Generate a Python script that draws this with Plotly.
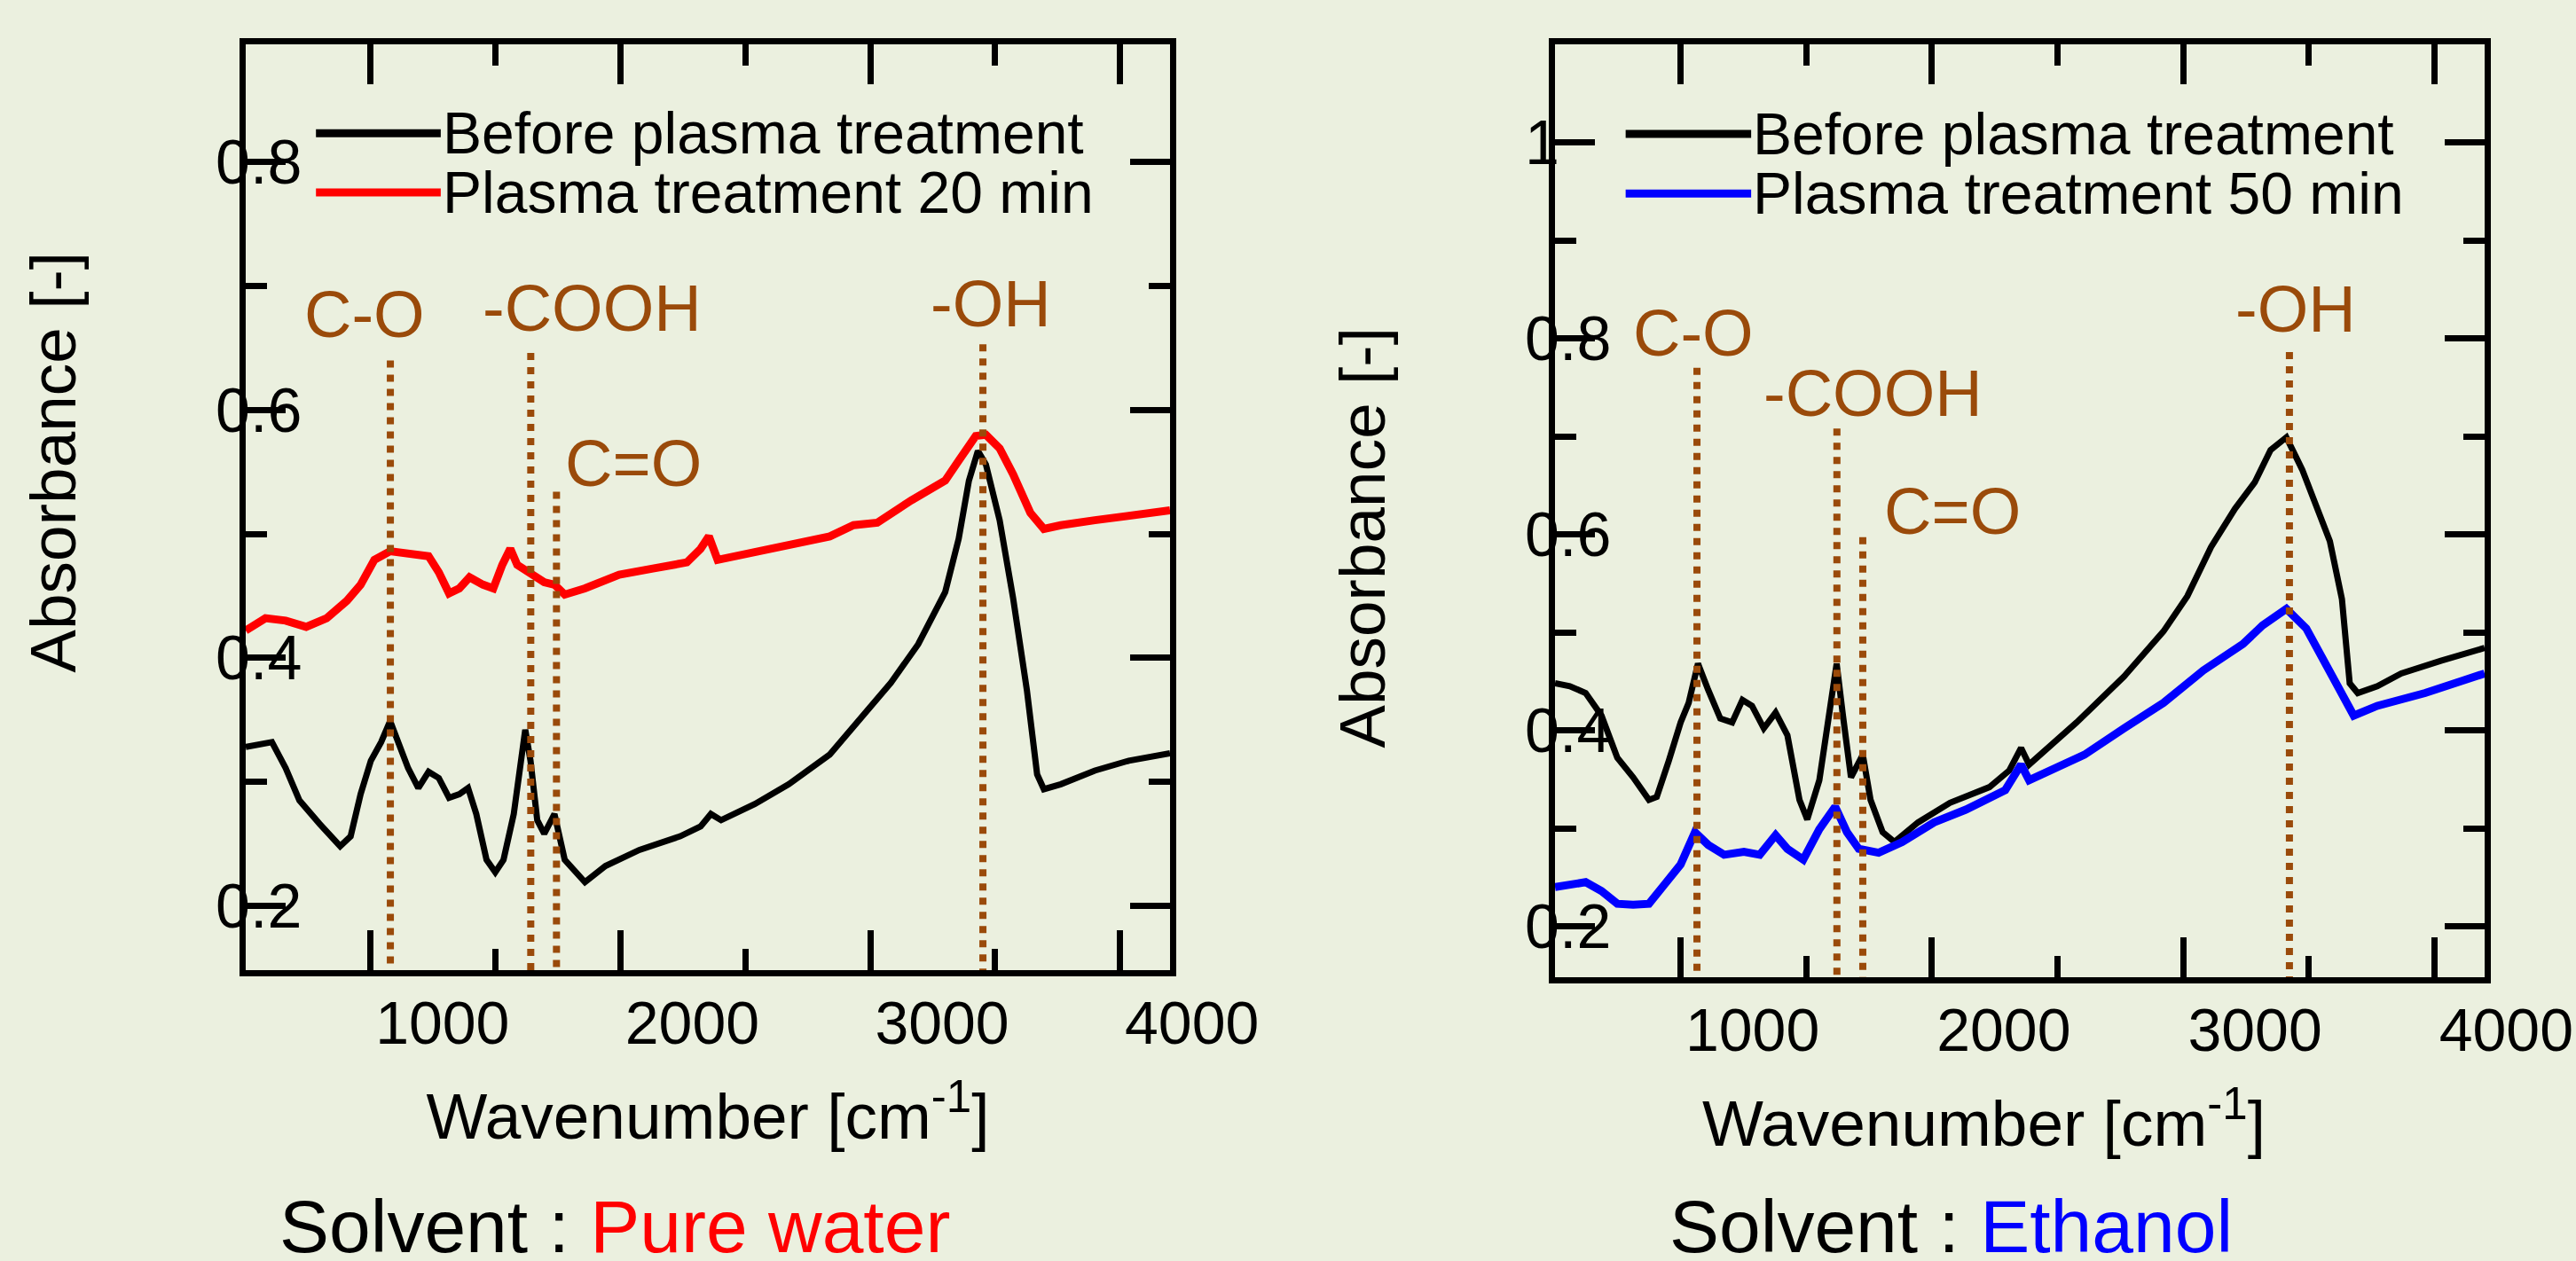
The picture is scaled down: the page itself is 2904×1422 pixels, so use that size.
import plotly.graph_objects as go

# ---------------- data ----------------
# Solvent: pure water
wn_water_before = [500, 605, 660, 715, 796, 878, 920, 960, 1001, 1042, 1078, 1110, 1150, 1191,
                   1232, 1273, 1314, 1355, 1390, 1423, 1464, 1499, 1532, 1573, 1600, 1619, 1640,
                   1667, 1695, 1736, 1777, 1858, 1940, 2076, 2239, 2321, 2362, 2403, 2538, 2674,
                   2838, 2946, 3083, 3192, 3300, 3354, 3395, 3431, 3463, 3518, 3572, 3627, 3668,
                   3695, 3763, 3899, 4035, 4200]
abs_water_before = [0.328, 0.332, 0.311, 0.285, 0.266, 0.248, 0.256, 0.290, 0.317, 0.332, 0.349,
                    0.332, 0.311, 0.295, 0.308, 0.303, 0.287, 0.290, 0.295, 0.274, 0.237, 0.227,
                    0.237, 0.274, 0.317, 0.342, 0.317, 0.269, 0.258, 0.274, 0.237, 0.219, 0.232,
                    0.245, 0.256, 0.264, 0.274, 0.269, 0.282, 0.298, 0.322, 0.348, 0.380, 0.411,
                    0.453, 0.496, 0.543, 0.567, 0.556, 0.511, 0.448, 0.374, 0.306, 0.294, 0.298,
                    0.309, 0.317, 0.323]

wn_water_plasma = [500, 579, 660, 742, 824, 905, 960, 1015, 1078, 1150, 1232, 1273, 1314, 1355,
                   1396, 1450, 1491, 1527, 1559, 1587, 1640, 1695, 1736, 1777, 1858, 1995, 2130,
                   2266, 2321, 2354, 2389, 2538, 2674, 2838, 2933, 3028, 3164, 3300, 3354, 3422,
                   3463, 3518, 3572, 3641, 3695, 3763, 3899, 4035, 4200]
abs_water_plasma = [0.422, 0.432, 0.430, 0.425, 0.432, 0.446, 0.459, 0.479, 0.486, 0.484, 0.482,
                    0.469, 0.452, 0.456, 0.465, 0.459, 0.456, 0.475, 0.488, 0.475, 0.469, 0.461,
                    0.459, 0.451, 0.456, 0.467, 0.472, 0.477, 0.488, 0.498, 0.479, 0.485, 0.491,
                    0.498, 0.507, 0.509, 0.527, 0.543, 0.559, 0.579, 0.580, 0.569, 0.548, 0.517,
                    0.504, 0.507, 0.511, 0.514, 0.519]

# Solvent: ethanol
wn_eth_before = [500, 559, 622, 685, 748, 811, 874, 905, 953, 1000, 1032, 1069, 1110, 1158, 1205,
                 1246, 1284, 1331, 1378, 1425, 1473, 1504, 1552, 1593, 1621, 1646, 1678, 1725,
                 1756, 1804, 1851, 1945, 2072, 2229, 2308, 2355, 2387, 2576, 2765, 2922, 3017,
                 3111, 3206, 3285, 3348, 3411, 3474, 3584, 3632, 3663, 3695, 3773, 3868, 4026,
                 4200]
abs_eth_before = [0.448, 0.445, 0.438, 0.415, 0.372, 0.352, 0.329, 0.332, 0.369, 0.408, 0.428,
                  0.468, 0.441, 0.412, 0.408, 0.431, 0.425, 0.402, 0.418, 0.395, 0.329, 0.309,
                  0.349, 0.415, 0.468, 0.415, 0.352, 0.375, 0.329, 0.296, 0.286, 0.306, 0.326,
                  0.342, 0.359, 0.382, 0.365, 0.408, 0.455, 0.501, 0.537, 0.587, 0.626, 0.653,
                  0.686, 0.699, 0.666, 0.593, 0.534, 0.448, 0.438, 0.445, 0.458, 0.471, 0.484]

wn_eth_plasma = [500, 559, 622, 685, 748, 811, 874, 937, 1000, 1057, 1110, 1173, 1252, 1315,
                 1378, 1425, 1488, 1552, 1615, 1662, 1709, 1788, 1882, 2009, 2135, 2292, 2355,
                 2387, 2607, 2765, 2922, 3080, 3238, 3316, 3411, 3490, 3584, 3679, 3773, 3963,
                 4200]
abs_eth_plasma = [0.240, 0.242, 0.245, 0.236, 0.223, 0.222, 0.223, 0.243, 0.263, 0.296, 0.283,
                  0.273, 0.276, 0.273, 0.293, 0.279, 0.268, 0.299, 0.322, 0.296, 0.279, 0.275,
                  0.286, 0.306, 0.319, 0.339, 0.365, 0.349, 0.375, 0.402, 0.428, 0.461, 0.488,
                  0.507, 0.524, 0.504, 0.461, 0.415, 0.425, 0.438, 0.458]

# peak assignments (dotted guide lines)
peak_labels = ["C-O", "-COOH", "C=O", "-OH"]
water_peak_wn = [1079, 1641, 1744, 3451]
water_peak_top = [0.640, 0.646, 0.534, 0.653]
eth_peak_wn = [1065, 1622, 1725, 3423]
eth_peak_top = [0.770, 0.708, 0.597, 0.786]

# label anchor positions for the peak names
water_label_wn = [976, 1888, 2050, 3483]
water_label_abs = [0.677, 0.682, 0.557, 0.686]
eth_label_wn = [1051, 1764, 2081, 3447]
eth_label_abs = [0.805, 0.744, 0.624, 0.830]

series_names_water = ["Before plasma treatment", "Plasma treatment 20 min"]
series_names_eth = ["Before plasma treatment", "Plasma treatment 50 min"]

x_range = [500, 4200]
y_range_water = [0.148, 0.895]
y_range_eth = [0.148, 1.1]

# ---------------- style ----------------
BG = "#EBF0DF"
BROWN = "#9A4A0A"
FONT = "Liberation Sans, Arial, sans-serif"
W, H = 2904, 1422
ML, MR, MT, MB = 277, 103, 50, 320
PW = W - ML - MR
PH = H - MT - MB
NB = "&nbsp;"

fig = go.Figure()

def add_panel(xa, ya, wn_a, ab_a, wn_b, ab_b, col_b, names, pk_wn, pk_top, ymin):
    fig.add_trace(go.Scatter(x=wn_a, y=ab_a, mode="lines", name=names[0],
                             line=dict(color="black", width=7), xaxis=xa, yaxis=ya,
                             showlegend=False))
    fig.add_trace(go.Scatter(x=wn_b, y=ab_b, mode="lines", name=names[1],
                             line=dict(color=col_b, width=9), xaxis=xa, yaxis=ya,
                             showlegend=False))
    for lab, w, t in zip(peak_labels, pk_wn, pk_top):
        fig.add_trace(go.Scatter(x=[w, w], y=[t, ymin - 0.01], mode="lines", name=lab,
                                 line=dict(color=BROWN, width=8, dash="dot"),
                                 xaxis=xa, yaxis=ya, showlegend=False, hoverinfo="skip"))

add_panel("x", "y", wn_water_before, abs_water_before, wn_water_plasma, abs_water_plasma,
          "#FF0000", series_names_water, water_peak_wn, water_peak_top, y_range_water[0])
add_panel("x2", "y2", wn_eth_before, abs_eth_before, wn_eth_plasma, abs_eth_plasma,
          "#0000FF", series_names_eth, eth_peak_wn, eth_peak_top, y_range_eth[0])

annotations = []
shapes = []
for xr, yr, lx, ly in (("x", "y", water_label_wn, water_label_abs),
                       ("x2", "y2", eth_label_wn, eth_label_abs)):
    for lab, xx, yy in zip(peak_labels, lx, ly):
        annotations.append(dict(x=xx, y=yy, xref=xr, yref=yr, text=lab, showarrow=False,
                                xanchor="center", yanchor="middle",
                                font=dict(family=FONT, size=74, color=BROWN)))

# custom legends (long line keys like the original)
leg_x0, leg_x1 = 0.076, 0.211
leg_rows = [0.904, 0.840]
for xr, yr, names, col_b in (("x", "y", series_names_water, "#FF0000"),
                             ("x2", "y2", series_names_eth, "#0000FF")):
    for name, yy, col in zip(names, leg_rows, ["black", col_b]):
        shapes.append(dict(type="line", xref=xr + " domain", yref=yr + " domain",
                           x0=leg_x0, x1=leg_x1, y0=yy, y1=yy,
                           line=dict(color=col, width=9)))
        annotations.append(dict(x=leg_x1, y=yy, xref=xr + " domain", yref=yr + " domain",
                                text=name, showarrow=False, xanchor="left", yanchor="middle",
                                font=dict(family=FONT, size=66, color="black")))

# solvent captions
annotations.append(dict(x=(313 - ML) / PW, y=(H - MB - 1334) / PH, xref="paper", yref="paper",
                        text="Solvent : <span style='color:#FF0000'>Pure water</span>",
                        showarrow=False, xanchor="left", yanchor="top",
                        font=dict(family=FONT, size=84, color="black")))
annotations.append(dict(x=(1880 - ML) / PW, y=(H - MB - 1334) / PH, xref="paper", yref="paper",
                        text="Solvent : <span style='color:#0000FF'>Ethanol</span>",
                        showarrow=False, xanchor="left", yanchor="top",
                        font=dict(family=FONT, size=84, color="black")))

axis_common = dict(showline=True, linewidth=7, linecolor="black", mirror="ticks",
                   ticks="inside", ticklen=45, tickwidth=7, tickcolor="black",
                   showgrid=False, zeroline=False, automargin=False)

def xaxis_props(title_text):
    return dict(axis_common, range=x_range, tick0=0, dtick=1000,
                minor=dict(ticks="inside", ticklen=24, tickwidth=7, tickcolor="black",
                           dtick=500, tick0=0, showgrid=False),
                tickfont=dict(family=FONT, size=68, color="black"),
                ticklabelshift=81, ticklabelstandoff=-6,
                title=dict(text=title_text,
                           font=dict(family=FONT, size=73, color="black"), standoff=46))

def yaxis_props(title_text, yr):
    return dict(axis_common, range=yr, tick0=0, dtick=0.2,
                minor=dict(ticks="inside", ticklen=24, tickwidth=7, tickcolor="black",
                           dtick=0.1, tick0=0, showgrid=False),
                tickfont=dict(family=FONT, size=70, color="black"),
                ticklabelposition="inside", ticklabelstandoff=-68,
                title=dict(text=title_text,
                           font=dict(family=FONT, size=73, color="black"), standoff=136))

fig.update_layout(
    width=W, height=H,
    margin=dict(l=ML, r=MR, t=MT, b=MB),
    paper_bgcolor=BG, plot_bgcolor=BG,
    font=dict(family=FONT, color="black"),
    showlegend=False,
    xaxis=dict(xaxis_props("Wavenumber [cm<sup>-1</sup>]"),
               domain=[0, (1319 - ML) / PW], anchor="y"),
    yaxis=dict(yaxis_props(NB * 5 + "Absorbance [-]", y_range_water),
               domain=[(H - MB - 1094) / PH, 1], anchor="x"),
    xaxis2=dict(xaxis_props("Wavenumber [cm<sup>-1</sup>]" + NB * 4),
                domain=[(1753 - ML) / PW, 1], anchor="y2"),
    yaxis2=dict(yaxis_props("Absorbance [-]" + NB * 3, y_range_eth),
                domain=[0, 1], anchor="x2"),
    annotations=annotations,
    shapes=shapes,
)

fig.write_html(
    "out.html",
    config={"displayModeBar": False},
    post_script="document.body.style.margin='0px';document.body.style.background='#EBF0DF';",
)
